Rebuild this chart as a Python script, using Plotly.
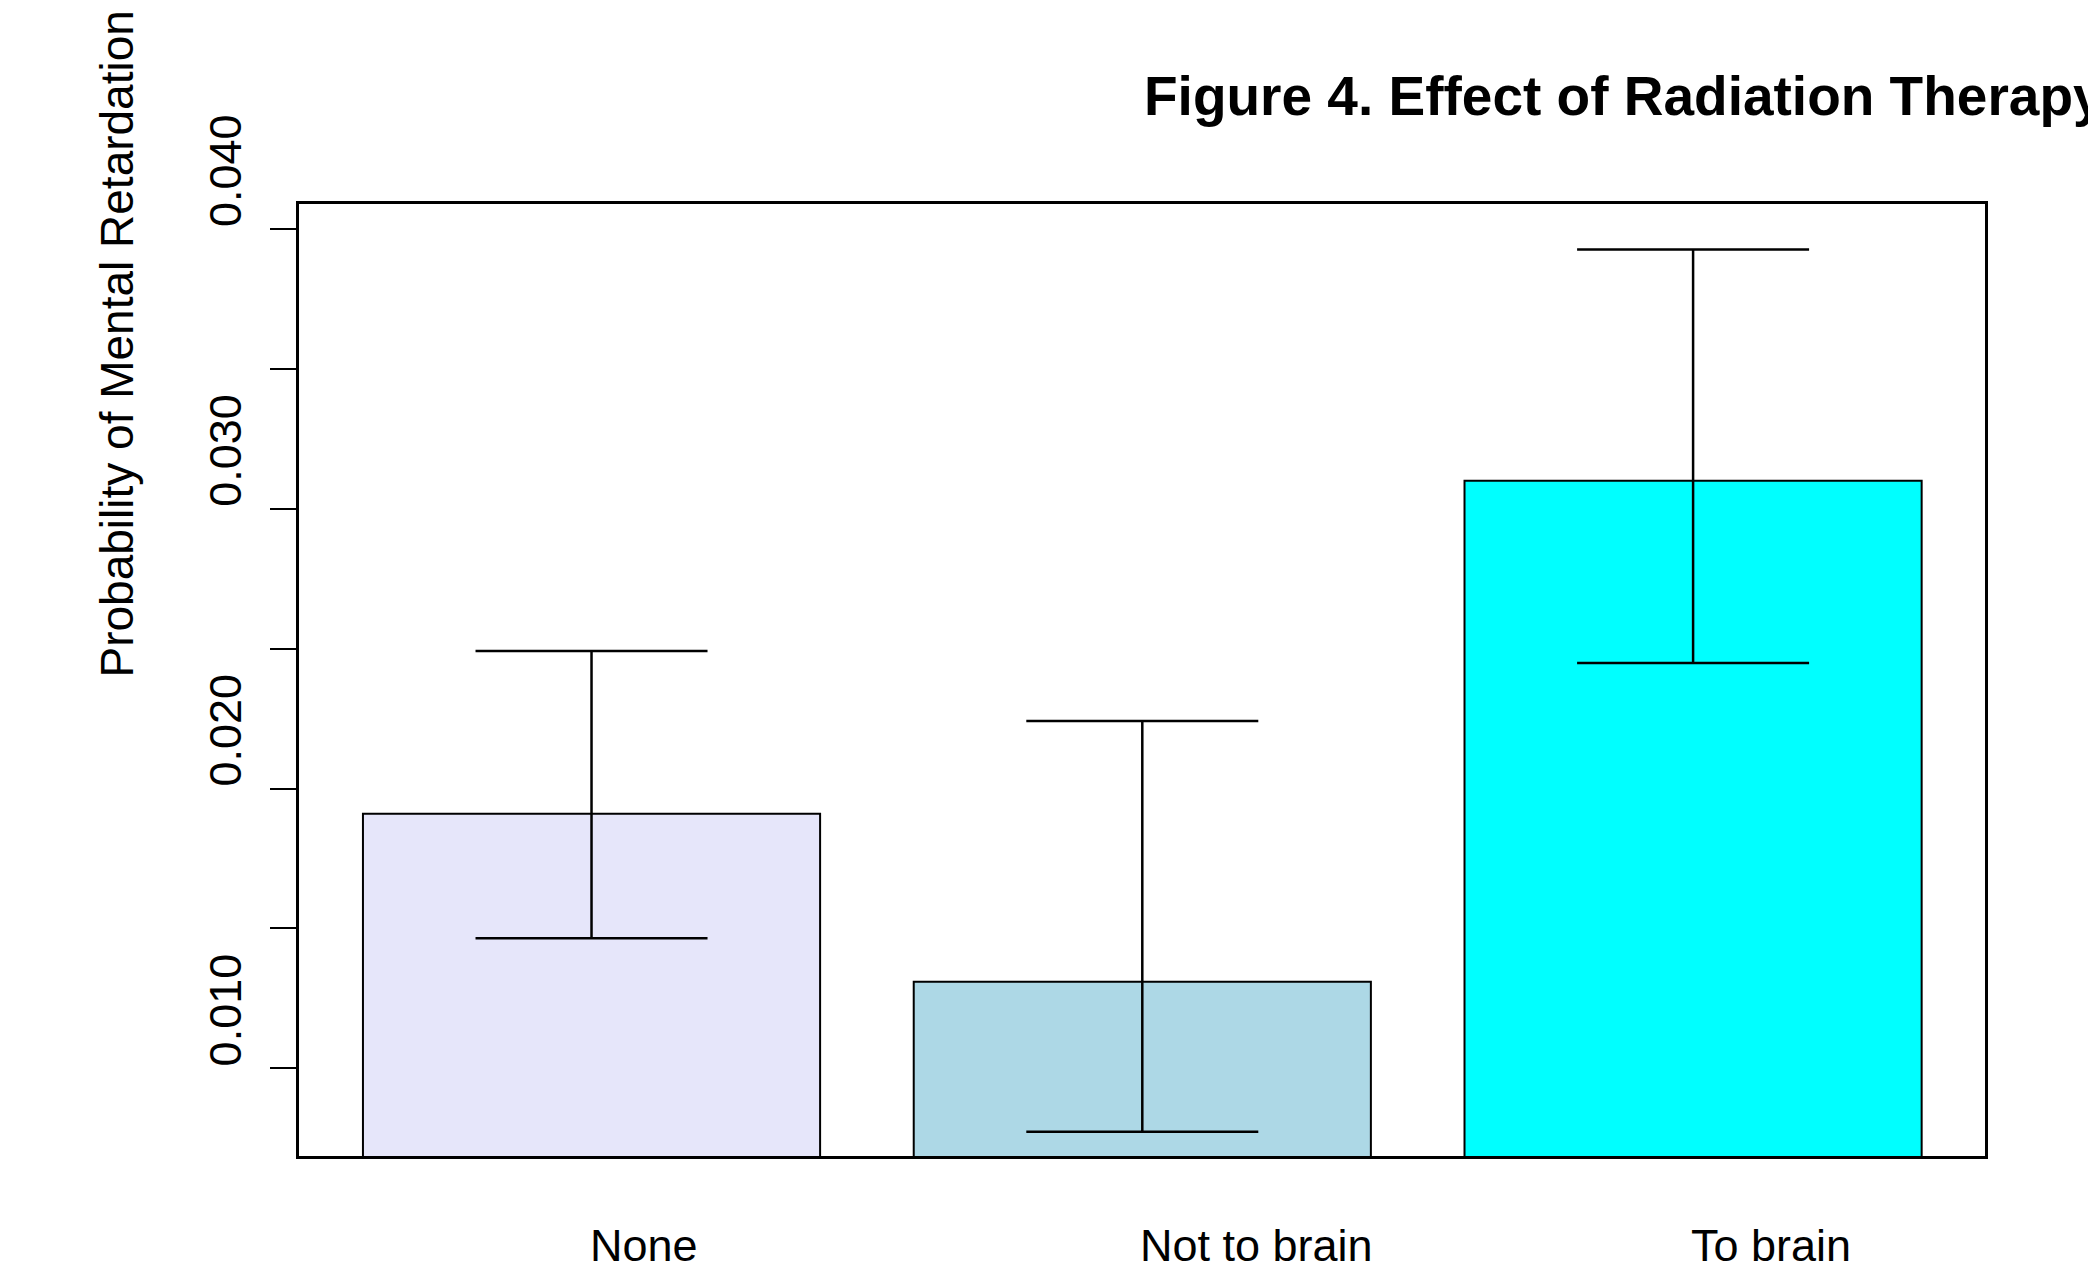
import plotly.graph_objects as go

# ---- data ----
categories = ["None", "Not to brain", "To brain"]
prob_mean = [0.0191, 0.0131, 0.0310]
ci_lower = [0.01465, 0.00774, 0.02449]
ci_upper = [0.02492, 0.02242, 0.03927]
bar_colors = ["#E6E6FA", "#ADD8E6", "#00FFFF"]

tick_marks = [0.010, 0.015, 0.020, 0.025, 0.030, 0.035, 0.040]
tick_label_values = [0.010, 0.020, 0.030, 0.040]
tick_label_text = ["0.010", "0.020", "0.030", "0.040"]

title_text = "Figure 4. Effect of Radiation Therapy"
y_title = "Probability of Mental Retardation"

FONT = "Liberation Sans, Arial, Helvetica, sans-serif"

err_plus = [u - m for u, m in zip(ci_upper, prob_mean)]
err_minus = [m - l for m, l in zip(prob_mean, ci_lower)]

fig = go.Figure()
fig.add_trace(go.Bar(
    x=categories,
    y=prob_mean,
    width=0.83,
    marker=dict(color=bar_colors, line=dict(color="black", width=2)),
    error_y=dict(type="data", symmetric=False, array=err_plus, arrayminus=err_minus,
                 color="black", thickness=2.5, width=116),
    showlegend=False,
))

annotations = []
# title: starts at the plot centre
annotations.append(dict(text=title_text, xref="paper", yref="paper", x=0.5, y=1,
                        xanchor="left", yanchor="bottom", yshift=75, showarrow=False,
                        font=dict(family=FONT, size=55, color="black", weight="bold")))
# y-axis title
annotations.append(dict(text=y_title, xref="paper", yref="paper", x=0, y=0.5,
                        xanchor="center", yanchor="bottom", xshift=-183, textangle=-90,
                        showarrow=False, font=dict(family=FONT, size=46, color="black")))
# y tick labels
for v, t in zip(tick_label_values, tick_label_text):
    annotations.append(dict(text=t, xref="paper", yref="y", x=0, y=v,
                            xanchor="center", yanchor="bottom", xshift=-73.5, textangle=-90,
                            showarrow=False, font=dict(family=FONT, size=45, color="black")))
# category labels: start at bar centres
for c in categories:
    annotations.append(dict(text=c, xref="x", yref="paper", x=c, y=0,
                            xanchor="left", yanchor="top", xshift=-4, yshift=-62,
                            showarrow=False, font=dict(family=FONT, size=45, color="black")))

# page body has an 8px margin: figure is 16px smaller, left/top margins shifted by 8
fig.update_layout(
    width=2088, height=1264,
    margin=dict(l=291, r=111, t=196, b=116, pad=0),
    paper_bgcolor="white", plot_bgcolor="white",
    xaxis=dict(range=[-0.5311, 2.530], showline=True, mirror=True, linecolor="black",
               linewidth=2.5, showticklabels=False, ticks="", showgrid=False, zeroline=False),
    yaxis=dict(range=[0.006869, 0.040893], showline=True, mirror=True, linecolor="black",
               linewidth=2.5, tickmode="array", tickvals=tick_marks, ticks="outside",
               ticklen=26, tickwidth=2, tickcolor="black", showticklabels=False,
               showgrid=False, zeroline=False),
    annotations=annotations,
    font=dict(family=FONT, color="black"),
)

fig.write_html("out.html")
